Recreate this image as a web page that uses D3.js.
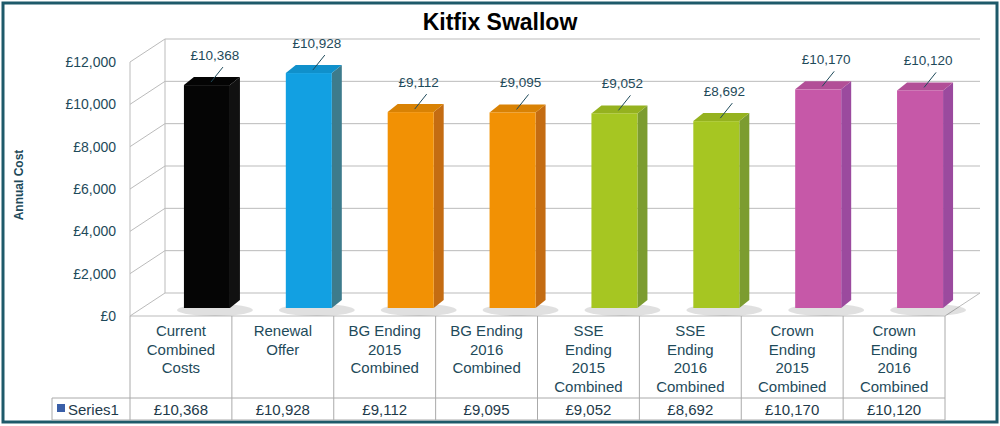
<!DOCTYPE html>
<html><head><meta charset="utf-8">
<script src="https://cdn.jsdelivr.net/npm/d3@7"></script>
<style>body{margin:0;background:#fff}text{font-family:"Liberation Sans",Arial,sans-serif}</style>
</head><body><div id="chart"></div>
<script>
var categories = [["Current","Combined","Costs"],["Renewal","Offer"],["BG Ending","2015","Combined"],["BG Ending","2016","Combined"],["SSE","Ending","2015","Combined"],["SSE","Ending","2016","Combined"],["Crown","Ending","2015","Combined"],["Crown","Ending","2016","Combined"]];
var values = [10368, 10928, 9112, 9095, 9052, 8692, 10170, 10120];
var fronts = ["#050505","#12a0e2","#f29104","#f29104","#a6c622","#a6c622","#c658a8","#c658a8"];
var sides = ["#111","#3d7b8c","#c46c12","#c46c12","#7c9c30","#7c9c30","#9b4a9e","#9b4a9e"];
var yTicks = [0,2000,4000,6000,8000,10000,12000];
var fmt = function(v){ return "£" + d3.format(",")(v); };

var svg = d3.select("#chart").append("svg").attr("width",1000).attr("height",426);
svg.append("rect").attr("x",3).attr("y",3).attr("width",994).attr("height",419)
  .attr("fill","#fff").attr("stroke","#1e5a6a").attr("stroke-width",3);

svg.append("text").attr("x",500).attr("y",30).attr("text-anchor","middle")
  .attr("font-size",23).attr("font-weight","bold").text("Kitfix Swallow");
svg.append("text").attr("transform","translate(23,185) rotate(-90)").attr("text-anchor","middle")
  .attr("font-size",12).attr("font-weight","bold").attr("fill","#1e4a5a").text("Annual Cost");

var x = d3.scaleBand().domain(d3.range(categories.length)).range([130,945]);
var yFront = d3.scaleLinear().domain([0,12000]).range([316,62]);
var dx = 35, dy = -23;

// walls & grid
var g = svg.append("g").attr("stroke","#bbb").attr("fill","none");
yTicks.forEach(function(t){
  g.append("path").attr("d","M130,"+yFront(t)+"L"+(130+dx)+","+(yFront(t)+dy)+"L"+(945+dx)+","+(yFront(t)+dy));
});
g.append("path").attr("d","M130,"+yFront(0)+"L130,"+yFront(12000));
g.append("path").attr("d","M"+(130+dx)+","+(yFront(0)+dy)+"L"+(130+dx)+","+(yFront(12000)+dy));
g.append("path").attr("d","M130,316L945,316L"+(945+dx)+","+(316+dy));

svg.selectAll(".yl").data(yTicks).enter().append("text")
  .attr("x",116).attr("y",function(d){return yFront(d)+5;}).attr("text-anchor","end")
  .attr("font-size",14).attr("fill","#1e4a5a").text(fmt);

// bars
var yBar = d3.scaleLinear().domain([0,12000]).range([308,50]);
var bw = 46, bdx = 10, bdy = -8;
values.forEach(function(v,i){
  var x0 = x(i) + x.bandwidth()/2 + 26 - bw/2, y0 = yBar(v), y1 = yBar(0);
  svg.append("ellipse").attr("cx",x0+bw/2+8).attr("cy",y1+2).attr("rx",38).attr("ry",6).attr("fill","#000").attr("opacity",0.12);
  svg.append("path").attr("fill",sides[i])
    .attr("d","M"+(x0+bw)+","+y0+"l"+bdx+","+bdy+"L"+(x0+bw+bdx)+","+(y1+bdy)+"L"+(x0+bw)+","+y1+"Z");
  svg.append("path").attr("fill",d3.color(fronts[i]).darker(0.3))
    .attr("d","M"+x0+","+y0+"l"+bdx+","+bdy+"l"+bw+",0l"+(-bdx)+","+(-bdy)+"Z");
  svg.append("rect").attr("x",x0).attr("y",y0).attr("width",bw).attr("height",y1-y0).attr("fill",fronts[i]);
  var cx = x0 + bw/2 + 4;
  svg.append("line").attr("x1",cx).attr("y1",y0-3).attr("x2",cx+12).attr("y2",y0-18).attr("stroke","#1e4a5a");
  svg.append("text").attr("x",cx+4).attr("y",y0-25).attr("text-anchor","middle")
    .attr("font-size",13.5).attr("fill","#1e4a5a").text(fmt(v));
});

// data table
var tb = svg.append("g").attr("stroke","#aaa").attr("fill","none");
tb.append("path").attr("d","M52,398L945,398M52,420L945,420M52,398L52,420");
d3.range(categories.length+1).forEach(function(i){
  var xx = i < categories.length ? x(i) : 945;
  tb.append("path").attr("d","M"+xx+",316L"+xx+",420");
});
categories.forEach(function(c,i){
  var t = svg.append("text").attr("text-anchor","middle").attr("font-size",15).attr("fill","#1e4a5a");
  c.forEach(function(s,j){
    t.append("tspan").attr("x",x(i)+x.bandwidth()/2).attr("y",336+j*18.5).text(s);
  });
  svg.append("text").attr("x",x(i)+x.bandwidth()/2).attr("y",415).attr("text-anchor","middle")
    .attr("font-size",15).attr("fill","#1e3a4a").text(fmt(values[i]));
});
svg.append("rect").attr("x",57).attr("y",404).attr("width",8).attr("height",8).attr("fill","#3a5fa8");
svg.append("text").attr("x",68).attr("y",415).attr("font-size",15).attr("fill","#1e3a4a").text("Series1");
</script></body></html>
